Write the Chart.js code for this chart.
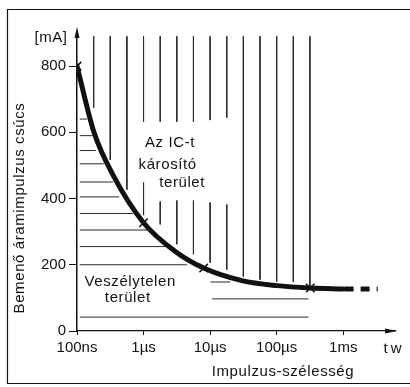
<!DOCTYPE html>
<html>
<head>
<meta charset="utf-8">
<script src="https://cdn.jsdelivr.net/npm/chart.js@4/dist/chart.umd.min.js"></script>
<style>
  body { margin: 0; background: #fff; }
  canvas { display: block; }
</style>
</head>
<body>
<canvas id="impulseChart" width="410" height="387"></canvas>
<script>
// pulse width in µs, peak input current in mA
const pulseWidth  = [0.1, 0.18, 0.35, 1, 3, 8, 30, 100, 320, 1000];
const peakCurrent = [800, 600, 470, 327, 240, 190, 152, 137, 130, 127];

const markWidth   = [0.1, 1, 8, 320];
const markCurrent = [800, 327, 190, 130];

const tailWidth   = [1050, 3300];
const tailCurrent = [127, 127];

const xTicks  = [0.1, 1, 10, 100, 1000];
const xLabels = ['100ns', '1µs', '10µs', '100µs', '1ms'];
const yTicks  = [0, 200, 400, 600, 800];

// hatching of the damaging area (vertical strokes)
const vHatchX      = [0.178, 0.316, 0.562, 1, 1.78, 3.16, 5.62, 10, 17.8, 31.6, 56.2, 100, 178, 316];
const vHatchTop    = [890, 890, 890, 890, 890, 890, 890, 890, 890, 890, 890, 890, 890, 890];
const vHatchBottom = [674, 517, 427, 632, 632, 632, 632, 637, 644, 164, 155, 148, 148, 133];
// short strokes under the label
const vLowX      = [1, 1.78, 3.16, 5.62, 10, 17.8];
const vLowTop    = [448, 391, 394, 394, 388, 382];
const vLowBottom = [350, 322, 262, 232, 206, 185];

// hatching of the safe area (horizontal strokes)
const hHatchY    = [640, 590, 545, 505, 450, 405, 355, 305, 255, 200, 148, 97, 42];
const hHatchFrom = [0.11, 0.11, 0.11, 0.11, 0.11, 0.11, 0.11, 0.11, 0.11, 0.11, 10.1, 10.7, 0.11];
const hHatchTo   = [0.141, 0.174, 0.193, 0.254, 0.35, 0.43, 0.69, 1.25, 2.25, 4.5, 20, 300, 300];

const FONT = '"Liberation Sans", Arial, sans-serif';
const INK = '#111';

const toPoints = (xs, ys) => xs.map((x, i) => ({x: x, y: ys[i]}));

const segments = (list) => {
    const out = [];
    list.forEach(s => out.push({x: s[0], y: s[1]}, {x: s[2], y: s[3]}, {x: s[2], y: null}));
    return out;
};

const vSegs = segments(vHatchX.map((x, i) => [x, vHatchTop[i], x, vHatchBottom[i]])
    .concat(vLowX.map((x, i) => [x, vLowTop[i], x, vLowBottom[i]])));
const hSegs = segments(hHatchY.map((y, i) => [hHatchFrom[i], y, hHatchTo[i], y]));

const notes = [
    {text: 'Az IC-t',      x: 2.5,  y: 568},
    {text: 'károsító',     x: 2.3,  y: 501},
    {text: 'terület',      x: 3.8,  y: 447},
    {text: 'Veszélytelen', x: 0.63, y: 148},
    {text: 'terület',      x: 0.58, y: 100}
];

const sketchExtras = {
    id: 'sketchExtras',
    afterDraw(chart) {
        const {ctx, chartArea: a, scales: {x, y}} = chart;
        ctx.save();

        // frame
        ctx.strokeStyle = INK;
        ctx.lineWidth = 1.2;
        ctx.beginPath();
        ctx.moveTo(410, 9.5);
        ctx.lineTo(7.5, 9.5);
        ctx.lineTo(7.5, 383.5);
        ctx.lineTo(410, 383.5);
        ctx.stroke();

        // axis arrows
        ctx.fillStyle = INK;
        ctx.beginPath();
        ctx.moveTo(a.left, a.top - 6);
        ctx.lineTo(a.left - 2.5, a.top + 5);
        ctx.lineTo(a.left + 2.5, a.top + 5);
        ctx.closePath();
        ctx.fill();
        ctx.beginPath();
        ctx.moveTo(a.right + 2, a.bottom);
        ctx.lineTo(a.right - 10, a.bottom - 2.5);
        ctx.lineTo(a.right - 10, a.bottom + 2.5);
        ctx.closePath();
        ctx.fill();

        ctx.font = '15px ' + FONT;
        ctx.textAlign = 'center';
        ctx.textBaseline = 'middle';
        ctx.letterSpacing = '0.6px';

        notes.forEach(n => ctx.fillText(n.text, x.getPixelForValue(n.x), y.getPixelForValue(n.y)));

        ctx.fillText('[mA]', 51, 38);
        ctx.fillText('Impulzus-szélesség', 283, 372);
        ctx.letterSpacing = '3px';
        ctx.fillText('tw', 394, 349);
        ctx.letterSpacing = '0.6px';

        ctx.translate(20, 208);
        ctx.rotate(-Math.PI / 2);
        ctx.fillText('Bemenő áramimpulzus csúcs', 0, 0);
        ctx.restore();
    }
};

Chart.defaults.font.family = FONT;
Chart.defaults.color = INK;

const impulseChart = () => {
    const ctx = document.getElementById('impulseChart').getContext('2d');

    const data = {
        datasets: [
            {
                data: vSegs,
                borderColor: '#2a2a2a',
                borderWidth: 1,
                pointRadius: 0,
                spanGaps: false
            },
            {
                data: hSegs,
                borderColor: '#2a2a2a',
                borderWidth: 1,
                pointRadius: 0,
                spanGaps: false
            },
            {
                data: toPoints(pulseWidth, peakCurrent),
                borderColor: INK,
                borderWidth: 5,
                cubicInterpolationMode: 'monotone',
                pointRadius: 0,
                borderCapStyle: 'round'
            },
            {
                data: toPoints(tailWidth, tailCurrent),
                borderColor: INK,
                borderWidth: 5,
                borderDash: [9, 7],
                pointRadius: 0
            },
            {
                data: toPoints(markWidth, markCurrent),
                showLine: false,
                pointStyle: 'crossRot',
                pointRadius: 6,
                pointBorderWidth: 1.5,
                pointBorderColor: INK
            }
        ]
    };

    const config = {
        type: 'line',
        data: data,
        options: {
            responsive: false,
            animation: false,
            layout: {
                padding: {top: 33, right: 15, left: 0, bottom: 0}
            },
            plugins: {
                legend: {display: false},
                tooltip: {enabled: false}
            },
            scales: {
                x: {
                    type: 'logarithmic',
                    min: 0.1,
                    max: 6000,
                    afterFit: (scale) => { scale.height = 56; },
                    afterBuildTicks: (scale) => { scale.ticks = xTicks.map(v => ({value: v})); },
                    ticks: {
                        autoSkip: false,
                        maxRotation: 0,
                        padding: 4,
                        font: {size: 15},
                        callback: (value, index) => xLabels[index]
                    },
                    grid: {
                        drawOnChartArea: false,
                        tickLength: 4,
                        color: INK
                    },
                    border: {color: INK, width: 1.2}
                },
                y: {
                    type: 'linear',
                    min: 0,
                    max: 900,
                    afterFit: (scale) => { scale.width = 77; },
                    afterBuildTicks: (scale) => { scale.ticks = yTicks.map(v => ({value: v})); },
                    ticks: {
                        padding: 3,
                        font: {size: 15}
                    },
                    grid: {
                        drawOnChartArea: false,
                        tickLength: 8,
                        color: INK
                    },
                    border: {color: INK, width: 1.5}
                }
            }
        },
        plugins: [sketchExtras]
    };

    new Chart(ctx, config);
};

impulseChart();
</script>
</body>
</html>
